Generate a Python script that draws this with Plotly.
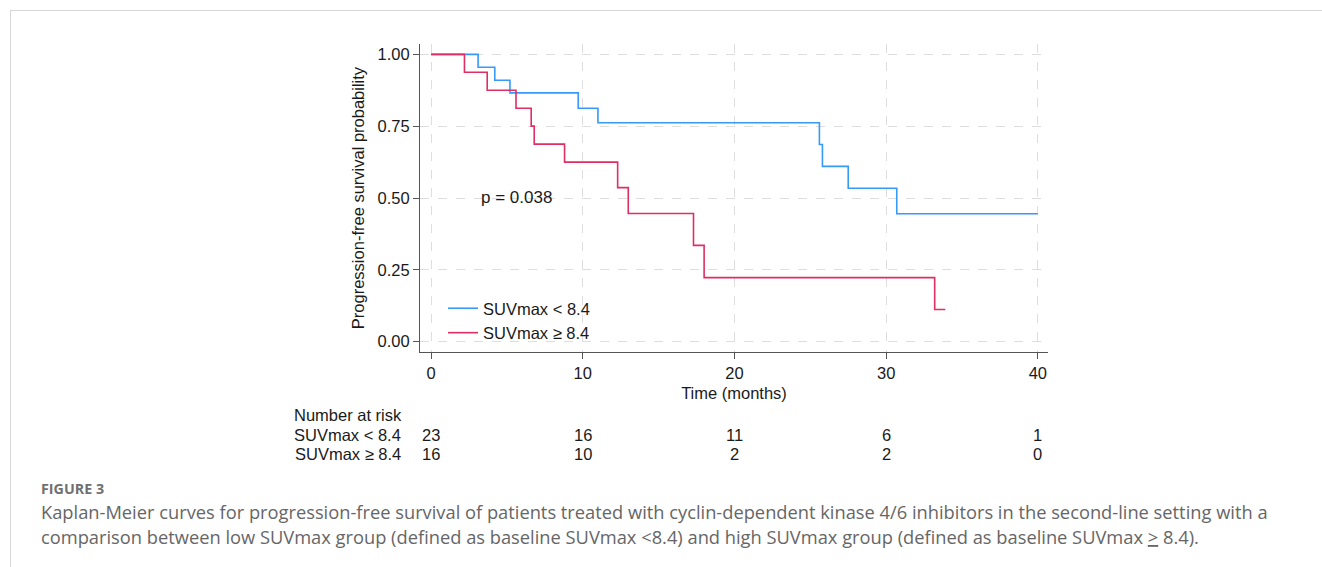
import plotly.graph_objects as go

# ---- data ----
low_time = [0, 3.1, 4.2, 5.2, 9.7, 11.0, 25.6, 25.8, 27.5, 30.7, 40.0]
low_surv = [1.0, 0.955, 0.910, 0.866, 0.8125, 0.762, 0.686, 0.610, 0.534, 0.445, 0.445]

high_time = [0, 2.2, 3.7, 5.6, 6.6, 6.8, 8.8, 12.3, 13.0, 17.3, 18.0, 33.2, 33.9]
high_surv = [1.0, 0.9375, 0.875, 0.8125, 0.75, 0.6875, 0.625, 0.536, 0.446, 0.335, 0.223, 0.112, 0.112]

group_names = ["SUVmax < 8.4", "SUVmax ≥ 8.4"]
risk_times = [0, 10, 20, 30, 40]
risk_low = [23, 16, 11, 6, 1]
risk_high = [16, 10, 2, 2, 0]

x_ticks = [0, 10, 20, 30, 40]
y_ticks = [0.0, 0.25, 0.5, 0.75, 1.0]
p_text = "p = 0.038"

caption_head = "FIGURE 3"
caption_line1 = ("Kaplan-Meier curves for progression-free survival of patients treated with "
                 "cyclin-dependent kinase 4/6 inhibitors in the second-line setting with a")
caption_line2 = ("comparison between low SUVmax group (defined as baseline SUVmax &lt;8.4) and high "
                 "SUVmax group (defined as baseline SUVmax <u>&gt;</u> 8.4).")

# ---- styling ----
W, H = 1322, 567
BLUE = "#3799F8"
RED = "#DE2E63"
FONT = "Liberation Sans, Arial, sans-serif"
FS = 16.5
TXT = "#1a1a1a"
AX = "#555555"
GRID = "#dedede"

def px_x(p):
    return p / W

def px_y(p):
    return 1 - p / H

fig = go.Figure()
fig.add_trace(go.Scatter(x=low_time, y=low_surv, mode="lines", name=group_names[0],
                         line=dict(color=BLUE, width=1.6, shape="hv")))
fig.add_trace(go.Scatter(x=high_time, y=high_surv, mode="lines", name=group_names[1],
                         line=dict(color=RED, width=1.6, shape="hv")))

x_left, x_right = 420, 1048
y_top, y_bot = 44, 352

fig.update_layout(
    width=W, height=H, autosize=False,
    margin=dict(l=0, r=0, t=0, b=0),
    paper_bgcolor="white", plot_bgcolor="white",
    font=dict(family=FONT, size=FS, color=TXT),
    showlegend=True,
    legend=dict(x=px_x(443), y=px_y(291), xanchor="left", yanchor="top",
                bgcolor="rgba(0,0,0,0)", font=dict(size=FS, color=TXT),
                borderwidth=0, tracegroupgap=0),
    xaxis=dict(domain=[px_x(x_left), px_x(x_right)], range=[-0.73, 40.67],
               tickvals=x_ticks, ticks="outside", ticklen=6, tickcolor=AX,
               showline=True, linecolor=AX, linewidth=1.2,
               showgrid=True, gridcolor=GRID, griddash="dash", gridwidth=1,
               zeroline=False, tickfont=dict(size=FS, color=TXT),
               title=dict(text="Time (months)", font=dict(size=FS, color=TXT), standoff=6),
               anchor="y", fixedrange=True),
    yaxis=dict(domain=[px_y(y_bot), px_y(y_top)], range=[-0.036, 1.036],
               tickvals=y_ticks, tickformat=".2f", ticks="outside", ticklen=6, tickcolor=AX,
               showline=True, linecolor=AX, linewidth=1.2,
               showgrid=True, gridcolor=GRID, griddash="dash", gridwidth=1,
               zeroline=False, tickfont=dict(size=FS, color=TXT),
               title=dict(text="Progression-free survival probability",
                          font=dict(size=FS, color=TXT), standoff=8),
               anchor="x", fixedrange=True),
)

ann = []
ann.append(dict(x=5.6, y=0.503, xref="x", yref="y", text=p_text, showarrow=False,
                font=dict(size=17, color=TXT), xanchor="center", yanchor="middle"))

# number at risk table
ann.append(dict(x=px_x(292), y=px_y(415), xref="paper", yref="paper", text="Number at risk",
                showarrow=False, xanchor="left", yanchor="middle", font=dict(size=FS, color=TXT)))
ann.append(dict(x=px_x(292), y=px_y(435), xref="paper", yref="paper", text=group_names[0],
                showarrow=False, xanchor="left", yanchor="middle", font=dict(size=FS, color=TXT)))
ann.append(dict(x=px_x(293), y=px_y(454), xref="paper", yref="paper", text=group_names[1],
                showarrow=False, xanchor="left", yanchor="middle", font=dict(size=FS, color=TXT)))
for t, n in zip(risk_times, risk_low):
    ann.append(dict(x=t, y=px_y(435), xref="x", yref="paper", text=str(n), showarrow=False,
                    xanchor="center", yanchor="middle", font=dict(size=FS, color=TXT)))
for t, n in zip(risk_times, risk_high):
    ann.append(dict(x=t, y=px_y(454), xref="x", yref="paper", text=str(n), showarrow=False,
                    xanchor="center", yanchor="middle", font=dict(size=FS, color=TXT)))

# caption
CAP_FONT = "Open Sans, Lato, sans-serif"
ann.append(dict(x=px_x(39), y=px_y(488), xref="paper", yref="paper", text="<b>" + caption_head + "</b>",
                showarrow=False, xanchor="left", yanchor="middle",
                font=dict(family=CAP_FONT, size=14.3, color="#707070")))
ann.append(dict(x=px_x(39), y=px_y(511), xref="paper", yref="paper", text=caption_line1,
                showarrow=False, xanchor="left", yanchor="middle",
                font=dict(family=CAP_FONT, size=18.3, color="#666666")))
ann.append(dict(x=px_x(39), y=px_y(536), xref="paper", yref="paper", text=caption_line2,
                showarrow=False, xanchor="left", yanchor="middle",
                font=dict(family=CAP_FONT, size=18.3, color="#666666")))
fig.update_layout(annotations=ann)

# page frame lines
fig.update_layout(shapes=[
    dict(type="line", xref="paper", yref="paper", x0=px_x(10), x1=1, y0=px_y(10.5), y1=px_y(10.5),
         line=dict(color="#d6d6d6", width=1)),
    dict(type="line", xref="paper", yref="paper", x0=px_x(10.5), x1=px_x(10.5), y0=px_y(10), y1=0,
         line=dict(color="#d6d6d6", width=1)),
])

fig.write_html("out.html")
